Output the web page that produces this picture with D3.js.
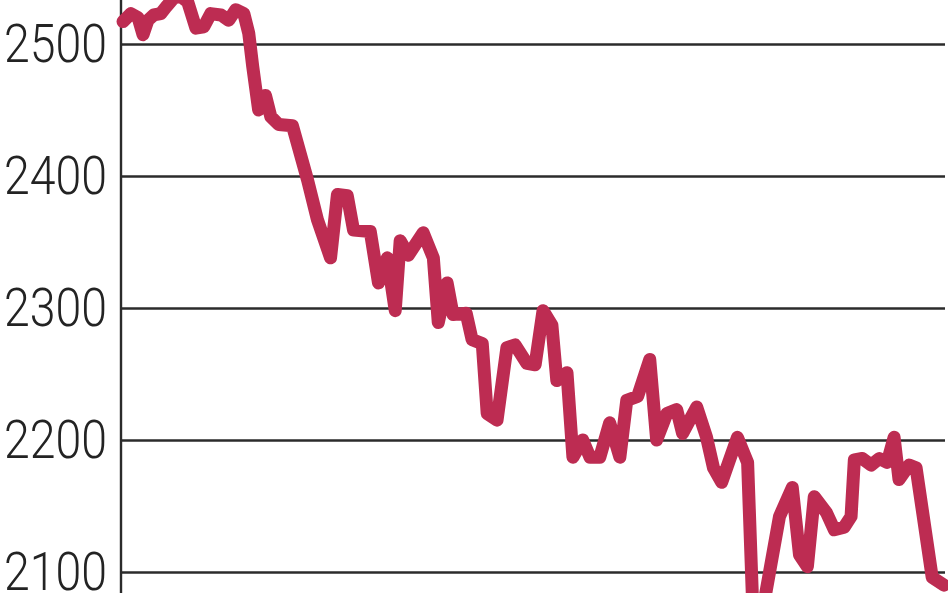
<!DOCTYPE html>
<html>
<head>
<meta charset="utf-8">
<script src="https://cdn.jsdelivr.net/npm/d3@7"></script>
<style>
  html, body { margin: 0; padding: 0; background: #fff; }
  svg { display: block; }
  .grid line { stroke: #2b2b2b; stroke-width: 2.4; }
  .grid text { font-family: Roboto, "Liberation Sans", sans-serif; font-weight: 300; font-size: 54px; fill: #232323; }
</style>
</head>
<body>
<script>
'use strict';

// Sesje (oś X) i wartości indeksu.
var sessions = [0, 2.4, 4.6, 6.1, 7.6, 9.4, 11.5, 13.1, 15.5, 17.6, 19.7, 22.2, 24.6, 26.7, 29.8, 32.2, 34.3, 36.8, 38.3, 39.5,
	41.3, 43.4, 45, 47.4, 51.6, 56.2, 59.2, 63.2, 65.3, 68.3, 70.2, 75.3, 77.8, 80.5, 82.9, 84.4, 86.9, 91.4, 94.5, 96,
	98.7, 100.5, 104.5, 106.3, 109.4, 110.9, 113.9, 116.9, 119.4, 123, 125.5, 127.9, 130.6, 132.1, 135.2, 137, 140, 142.2, 145.2, 148.2,
	151.3, 153.4, 156.7, 160.4, 162.5, 165.6, 168.6, 170.4, 174.7, 177.7, 179.8, 182.3, 187.1, 190.2, 191.7, 195.3, 199.9, 203.8, 206, 208.4,
	210.5, 214.2, 216.6, 219.6, 221.7, 222.7, 225.1, 227.8, 230.3, 232.7, 234.8, 236.3, 239.4, 241.5, 246.4, 250];

var values = [2517, 2523, 2520, 2507, 2518, 2522, 2523, 2528, 2535, 2536, 2532, 2512, 2513, 2523, 2522, 2518, 2526, 2523, 2508, 2483,
	2450, 2461, 2445, 2439, 2438, 2397, 2367, 2338, 2386, 2385, 2359, 2358, 2319, 2338, 2298, 2351, 2340, 2357, 2338, 2289,
	2319, 2295, 2296, 2276, 2273, 2220, 2215, 2270, 2272, 2258, 2257, 2298, 2287, 2245, 2251, 2187, 2200, 2187, 2187, 2213,
	2187, 2230, 2233, 2261, 2200, 2220, 2223, 2205, 2225, 2202, 2179, 2168, 2202, 2183, 2078, 2078, 2142, 2164, 2113, 2104,
	2157, 2145, 2132, 2134, 2142, 2185, 2186, 2181, 2186, 2183, 2202, 2170, 2181, 2179, 2096, 2090];

var yTicks = [2100, 2200, 2300, 2400, 2500];

var W = 948, H = 593;
var axisX = 121;

var data = sessions.map(function(s, i) {
	return {s: s, v: values[i]};
});

var svg = d3.select("body").append("svg")
		.attr("width", W)
		.attr("height", H);

var x = d3.scaleLinear()
		.domain([0, 250])
		.range([123, 944]);

var y = d3.scaleLinear()
		.domain([2100, 2500])
		.range([572, 44]);

// Linie siatki i etykiety.
var yAxis = d3.axisLeft(y)
		.tickValues(yTicks)
		.tickFormat(d3.format("d"))
		.tickSizeInner(-(945 - axisX))
		.tickSizeOuter(0)
		.tickPadding(14);

var gAxis = svg.append("g")
		.attr("class", "grid")
		.attr("transform", "translate(" + axisX + ",0)")
		.call(yAxis);
gAxis.select(".domain").remove();

// Wąskie cyfry jak w oryginale.
gAxis.selectAll(".tick text")
		.attr("textLength", 103)
		.attr("lengthAdjust", "spacingAndGlyphs");

// Pionowa oś.
svg.append("line")
		.attr("x1", axisX)
		.attr("x2", axisX)
		.attr("y1", 0)
		.attr("y2", H)
		.attr("stroke", "#2b2b2b")
		.attr("stroke-width", 2.4);

// Linia notowań.
var line = d3.line()
		.x(function(d) { return x(d.s); })
		.y(function(d) { return y(d.v); });

svg.append("path")
		.datum(data)
		.attr("d", line)
		.attr("fill", "none")
		.attr("stroke", "#bd2c52")
		.attr("stroke-width", 13)
		.attr("stroke-linejoin", "round")
		.attr("stroke-linecap", "round");
</script>
</body>
</html>
